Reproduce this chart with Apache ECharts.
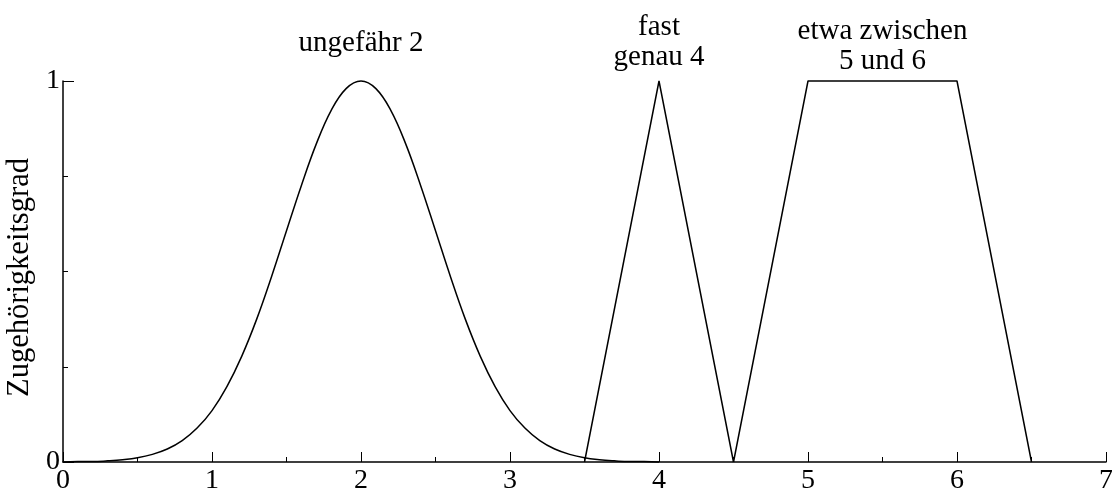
<!DOCTYPE html>
<html>
<head>
<meta charset="utf-8">
<script src="https://cdn.jsdelivr.net/npm/echarts@6/dist/echarts.min.js"></script>
<style>
  html, body { margin: 0; padding: 0; background: #fff; }
  #chart { width: 1112px; height: 488px; }
</style>
</head>
<body>
<div id="chart"></div>
<script>
// "ungefähr 2": bell-shaped membership, sampled every 0.1 from 0 to 4
const bellX = [0.0, 0.1, 0.2, 0.3, 0.4, 0.5, 0.6, 0.7, 0.8, 0.9,
               1.0, 1.1, 1.2, 1.3, 1.4, 1.5, 1.6, 1.7, 1.8, 1.9,
               2.0, 2.1, 2.2, 2.3, 2.4, 2.5, 2.6, 2.7, 2.8, 2.9,
               3.0, 3.1, 3.2, 3.3, 3.4, 3.5, 3.6, 3.7, 3.8, 3.9, 4.0];
const bellY = [0.000, 0.001, 0.001, 0.003, 0.006, 0.011, 0.020, 0.034, 0.056, 0.089,
               0.135, 0.198, 0.278, 0.375, 0.487, 0.607, 0.726, 0.835, 0.923, 0.980,
               1.000, 0.980, 0.923, 0.835, 0.726, 0.607, 0.487, 0.375, 0.278, 0.198,
               0.135, 0.089, 0.056, 0.034, 0.020, 0.011, 0.006, 0.003, 0.001, 0.001, 0.000];

// "fast genau 4": triangle
const triX = [3.5, 4.0, 4.5];
const triY = [0, 1, 0];

// "etwa zwischen 5 und 6": trapezoid
const trapX = [4.5, 5.0, 6.0, 6.5];
const trapY = [0, 1, 1, 0];

// annotations above each set
const noteTexts = ['ungefähr 2', 'fast\ngenau 4', 'etwa zwischen\n5 und 6'];
const noteX = [2, 4, 5.5];
const noteY = [1, 1, 1];

const xTickValues = [0, 1, 2, 3, 4, 5, 6, 7];
const yTickValues = [0, 1];
const yAxisTitle = 'Zugehörigkeitsgrad';

const FONT = '"Liberation Serif", "DejaVu Serif", serif';
const noteGaps = [23, 9, 5];

const pairs = (xs, ys) => xs.map((x, i) => [x, ys[i]]);
const lineStyle = { color: '#000', width: 1.5 };

const chart = echarts.init(document.getElementById('chart'), null, { renderer: 'canvas' });
chart.setOption({
  backgroundColor: '#fff',
  animation: false,
  grid: { left: 63, right: 6, top: 81, bottom: 26, containLabel: false, outerBoundsMode: 'none' },
  xAxis: {
    type: 'value',
    min: xTickValues[0],
    max: xTickValues[xTickValues.length - 1],
    interval: 1,
    axisLine: { show: true, lineStyle: { color: '#000', width: 1.5 } },
    axisTick: { show: true, inside: true, length: 10, lineStyle: { color: '#000', width: 1 } },
    minorTick: { show: true, splitNumber: 2, length: 5, lineStyle: { color: '#000', width: 1 } },
    splitLine: { show: false },
    axisLabel: {
      margin: 5,
      color: '#000',
      fontFamily: FONT,
      fontSize: 28,
      formatter: v => (xTickValues.includes(v) ? String(v) : '')
    }
  },
  yAxis: {
    type: 'value',
    min: yTickValues[0],
    max: yTickValues[1],
    interval: 1,
    name: yAxisTitle,
    nameLocation: 'middle',
    nameGap: 28,
    nameTextStyle: { color: '#000', fontFamily: FONT, fontSize: 30.5, padding: [0, 12, 0, 0] },
    axisLine: { show: true, lineStyle: { color: '#000', width: 1.5 } },
    axisTick: { show: true, inside: true, length: 11, lineStyle: { color: '#000', width: 1 } },
    minorTick: { show: true, splitNumber: 4, length: 5, lineStyle: { color: '#000', width: 1 } },
    splitLine: { show: false },
    axisLabel: {
      margin: 3,
      color: '#000',
      fontFamily: FONT,
      fontSize: 28,
      formatter: v => String(v)
    }
  },
  series: [
    {
      type: 'line', data: pairs(bellX, bellY), smooth: 0.4, showSymbol: false,
      clip: false, lineStyle: lineStyle, z: 3
    },
    {
      type: 'line', data: pairs(triX, triY), showSymbol: false,
      clip: false, lineStyle: lineStyle, z: 3
    },
    {
      type: 'line', data: pairs(trapX, trapY), showSymbol: false,
      clip: false, lineStyle: lineStyle, z: 3
    },
    {
      type: 'scatter',
      symbolSize: 0,
      silent: true,
      itemStyle: { opacity: 1, color: '#000' },
      data: noteTexts.map((t, i) => ({
        name: t,
        value: [noteX[i], noteY[i]],
        label: { distance: noteGaps[i] }
      })),
      label: {
        show: true,
        position: 'top',
        formatter: p => p.name,
        color: '#000',
        opacity: 1,
        textBorderWidth: 0,
        fontFamily: FONT,
        fontSize: 29,
        lineHeight: 30,
        align: 'center'
      }
    }
  ]
});
</script>
</body>
</html>
